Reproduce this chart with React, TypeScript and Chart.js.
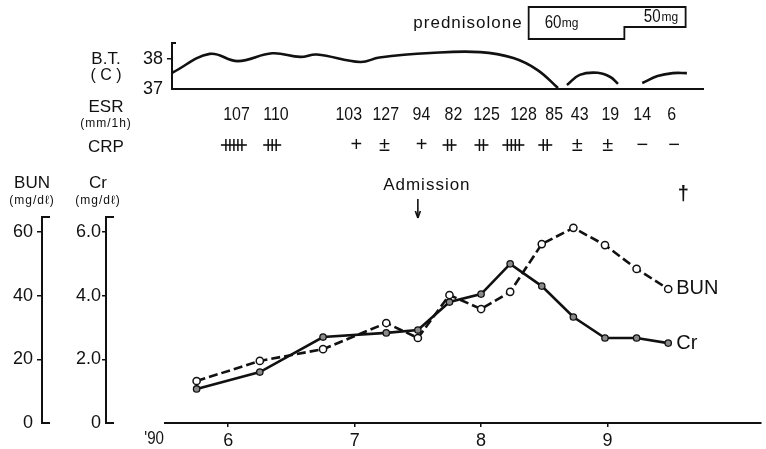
import React, { useEffect, useRef } from 'react';
import { Chart, registerables } from 'chart.js';

Chart.register(...registerables);

// ---------------- data ----------------
const sampleMonths = [5.75, 6.25, 6.75, 7.25, 7.5, 7.75, 8.0, 8.23, 8.48, 8.73, 8.98, 9.23, 9.48];
const bunValues = [13.2, 19.5, 23.2, 31.4, 26.7, 40.2, 35.8, 41.2, 56.2, 61.3, 55.9, 48.4, 42.1];
const crValues = [1.07, 1.6, 2.7, 2.83, 2.92, 3.8, 4.05, 5.0, 4.3, 3.33, 2.67, 2.67, 2.51];

const monthTicks = [6, 7, 8, 9];
const yearLabel = "'90";
const bunTicks = [0, 20, 40, 60];
const crTicks = [0, 2, 4, 6];
const btTicks = [37, 38];

const btMonths = [5.56, 5.85, 6.07, 6.34, 6.56, 6.69, 7.03, 7.18, 7.58, 7.97, 8.23, 8.42, 8.58, 8.62, 8.65, 8.75, 8.89, 8.99, 9.05, 9.15, 9.24, 9.36, 9.48, 9.59];
const btTemps: (number | null)[] = [37.55, 38.17, 37.93, 38.19, 38.07, 38.15, 37.9, 38.05, 38.2, 38.23, 38.03, 37.63, 37.03, null, 37.13, 37.47, 37.54, 37.4, 37.17, null, 37.2, 37.43, 37.53, 37.53];

const esrMonths = [6.06, 6.37, 6.94, 7.23, 7.51, 7.76, 8.02, 8.31, 8.55, 8.75, 8.99, 9.24, 9.47];
const esrValues = [107, 110, 103, 127, 94, 82, 125, 128, 85, 43, 19, 14, 6];
const crpMonths = [6.04, 6.34, 7.0, 7.22, 7.51, 7.73, 7.98, 8.23, 8.48, 8.73, 8.97, 9.24, 9.49];
const crpGrades = ['5+', '3+', '+', '±', '+', '2+', '2+', '4+', '2+', '±', '±', '−', '−'];

const admissionMonth = 7.5;
const admissionLabel = 'Admission';
const deathMonth = 9.6;
const prednisoloneStart = 8.35;
const prednisoloneStep = 9.1;
const prednisoloneEnd = 9.58;
const prednisoloneDoses = ['60', '50'];

// ---------------- layout / style ----------------
const W = 766;
const H = 449;
const INK = '#111';
const CLEAR = 'rgba(0,0,0,0)';
const NARROW = "'Liberation Sans Narrow', 'Arial Narrow', 'Liberation Sans', sans-serif";
const SANS = "'Liberation Sans', Arial, sans-serif";

const X_MIN = 5.5;
const X_MAX = 10.21;
const MAIN_LEFT = 165;
const MAIN_TOP = 217;
const MAIN_BOTTOM = 423;
const CR_TOP = 6.0 * (MAIN_BOTTOM - MAIN_TOP) / (MAIN_BOTTOM - 232);
const BUN_TOP = CR_TOP * 10;
const BT_LEFT = 172;
const BT_RIGHT = 703;
const BT_TOPPX = 43;
const BT_BASE = 89;
const BT_TOP = 37 + (BT_BASE - BT_TOPPX) / 30;
const PX_PER_MONTH = (W - MAIN_LEFT) / (X_MAX - X_MIN);
const TOP_MIN = X_MIN + (BT_LEFT - MAIN_LEFT) / PX_PER_MONTH;
const TOP_MAX = X_MIN + (BT_RIGHT - MAIN_LEFT) / PX_PER_MONTH;
const LABEL_X = 106;

function txt(ctx: CanvasRenderingContext2D, s: string, x: number, y: number, font: string,
  align: CanvasTextAlign = 'center', spacing = 0, squeeze = 1) {
  ctx.save();
  ctx.font = font;
  ctx.textAlign = align;
  ctx.textBaseline = 'middle';
  ctx.fillStyle = INK;
  (ctx as any).letterSpacing = spacing + 'px';
  ctx.translate(x, y);
  ctx.scale(squeeze, 1);
  ctx.fillText(s, 0, 0);
  ctx.restore();
}

function seg(ctx: CanvasRenderingContext2D, x1: number, y1: number, x2: number, y2: number, w = 1.6) {
  ctx.save();
  ctx.strokeStyle = INK;
  ctx.lineWidth = w;
  ctx.beginPath();
  ctx.moveTo(x1, y1);
  ctx.lineTo(x2, y2);
  ctx.stroke();
  ctx.restore();
}

function drawCrp(ctx: CanvasRenderingContext2D, grade: string, x: number, y: number) {
  const m = grade.match(/^(\d)\+$/);
  if (m) {
    const n = parseInt(m[1], 10);
    const span = (n - 1) * 4;
    seg(ctx, x - span / 2 - 5, y, x + span / 2 + 5, y, 1.6);
    for (let i = 0; i < n; i++) {
      const vx = x - span / 2 + i * 4;
      seg(ctx, vx, y - 6, vx, y + 6, 1.5);
    }
  } else {
    txt(ctx, grade, x, y, `20px ${SANS}`);
  }
}

const topDecor = {
  id: 'topDecor',
  afterDraw(chart: any) {
    const ctx: CanvasRenderingContext2D = chart.ctx;
    const xs = chart.scales.x;
    const ys = chart.scales.y;
    txt(ctx, 'B.T.', LABEL_X, ys.getPixelForValue(38), `17px ${SANS}`);
    txt(ctx, '( C )', LABEL_X, 76, `16px ${SANS}`);
    txt(ctx, 'ESR', LABEL_X, 107, `17px ${SANS}`);
    txt(ctx, '(mm/1h)', LABEL_X, 124, `12px ${SANS}`, 'center', 1);
    txt(ctx, 'CRP', LABEL_X, 147, `17px ${SANS}`);
    seg(ctx, ys.right - 1, ys.top, ys.right + 4, ys.top, 2);
    esrValues.forEach((v, i) => txt(ctx, String(v), xs.getPixelForValue(esrMonths[i]), 115, `19px ${SANS}`, 'center', 0, 0.84));
    crpGrades.forEach((g, i) => drawCrp(ctx, g, xs.getPixelForValue(crpMonths[i]), 145));
    const x0 = xs.getPixelForValue(prednisoloneStart);
    const x1 = xs.getPixelForValue(prednisoloneStep);
    const x2 = xs.getPixelForValue(prednisoloneEnd);
    ctx.save();
    ctx.strokeStyle = INK;
    ctx.lineWidth = 1.8;
    ctx.beginPath();
    ctx.moveTo(x0, 7);
    ctx.lineTo(x2, 7);
    ctx.lineTo(x2, 27);
    ctx.lineTo(x1, 27);
    ctx.lineTo(x1, 39);
    ctx.lineTo(x0, 39);
    ctx.closePath();
    ctx.stroke();
    ctx.restore();
    txt(ctx, 'prednisolone', x0 - 6, 23, `17px ${SANS}`, 'right', 1);
    txt(ctx, prednisoloneDoses[0], x0 + 16, 23, `18px ${SANS}`, 'left', 0, 0.84);
    txt(ctx, 'mg', x0 + 33, 24, `12px ${SANS}`, 'left');
    txt(ctx, prednisoloneDoses[1], x2 - 25, 17, `18px ${SANS}`, 'right', 0, 0.84);
    txt(ctx, 'mg', x2 - 24, 18, `12px ${SANS}`, 'left');
  },
};

const mainDecor = {
  id: 'mainDecor',
  afterDraw(chart: any) {
    const ctx: CanvasRenderingContext2D = chart.ctx;
    const xs = chart.scales.x;
    const yb = chart.scales.yBUN;
    const yc = chart.scales.yCr;
    [yb, yc].forEach((s: any) => {
      seg(ctx, s.right - 1, s.top, s.right + 8, s.top, 2);
      seg(ctx, s.right - 1, s.bottom, s.right + 8, s.bottom, 2);
    });
    txt(ctx, 'BUN', yb.right - 10, 183, `17px ${SANS}`);
    txt(ctx, '(mg/dℓ)', yb.right - 10, 201, `12px ${SANS}`, 'center', 1);
    txt(ctx, 'Cr', yc.right - 8, 183, `17px ${SANS}`);
    txt(ctx, '(mg/dℓ)', yc.right - 8, 201, `12px ${SANS}`, 'center', 1);
    txt(ctx, yearLabel, xs.left - 1, 439, `18px ${SANS}`, 'right', 0, 0.84);
    const ax = xs.getPixelForValue(admissionMonth);
    txt(ctx, admissionLabel, ax + 9, 185, `17px ${SANS}`, 'center', 1);
    seg(ctx, ax, 199, ax, 217, 1.6);
    seg(ctx, ax - 2.5, 211, ax, 218, 1.6);
    seg(ctx, ax + 2.5, 211, ax, 218, 1.6);
    txt(ctx, '†', xs.getPixelForValue(deathMonth), 194, `bold 20px ${SANS}`);
    const bunMeta = chart.getDatasetMeta(0).data;
    const crMeta = chart.getDatasetMeta(1).data;
    const lb = bunMeta[bunMeta.length - 1];
    const lc = crMeta[crMeta.length - 1];
    txt(ctx, 'BUN', lb.x + 8, lb.y, `20px ${SANS}`, 'left');
    txt(ctx, 'Cr', lc.x + 8, lc.y, `20px ${SANS}`, 'left');
  },
};

const tickColor = (zero: number) => (c: any) => (c.tick && c.tick.value === zero ? CLEAR : INK);

export default function App() {
  const topRef = useRef<HTMLCanvasElement>(null);
  const mainRef = useRef<HTMLCanvasElement>(null);

  useEffect(() => {
    document.body.style.margin = '0';
    const mainChart = new Chart(mainRef.current!, {
      type: 'line',
      data: {
        datasets: [
          {
            label: 'BUN',
            data: sampleMonths.map((m, i) => ({ x: m, y: bunValues[i] })),
            yAxisID: 'yBUN',
            borderColor: INK,
            borderWidth: 2.6,
            borderDash: [9, 4],
            pointRadius: 3.6,
            pointBackgroundColor: '#fff',
            pointBorderColor: INK,
            pointBorderWidth: 1.5,
            tension: 0,
          },
          {
            label: 'Cr',
            data: sampleMonths.map((m, i) => ({ x: m, y: crValues[i] })),
            yAxisID: 'yCr',
            borderColor: INK,
            borderWidth: 2.6,
            pointRadius: 3.2,
            pointBackgroundColor: '#8a8a8a',
            pointBorderColor: INK,
            pointBorderWidth: 1.3,
            tension: 0,
          },
        ],
      },
      options: {
        responsive: false,
        animation: false,
        devicePixelRatio: 1,
        events: [],
        layout: { padding: { top: MAIN_TOP, left: 0, right: 0, bottom: 0 } },
        plugins: { legend: { display: false }, tooltip: { enabled: false } },
        scales: {
          x: {
            type: 'linear',
            min: X_MIN,
            max: X_MAX,
            afterBuildTicks: (s: any) => { s.ticks = monthTicks.map((v) => ({ value: v })); },
            afterFit: (s: any) => { s.height = H - MAIN_BOTTOM; },
            ticks: { color: INK, font: { family: NARROW, size: 18 }, padding: 3, maxRotation: 0, autoSkip: false, callback: (v: any) => String(v) },
            grid: { drawOnChartArea: false, tickLength: 4, color: INK, lineWidth: 1.5 },
            border: { color: INK, width: 2 },
          },
          yBUN: {
            type: 'linear',
            position: 'left',
            weight: 3,
            min: 0,
            max: BUN_TOP,
            afterBuildTicks: (s: any) => { s.ticks = bunTicks.map((v) => ({ value: v })); },
            afterFit: (s: any) => { s.width = 42; },
            ticks: { color: INK, font: { family: NARROW, size: 18 }, padding: 4, callback: (v: any) => String(v) },
            grid: { drawOnChartArea: false, tickLength: 5, color: tickColor(0), lineWidth: 1.5 },
            border: { color: INK, width: 2 },
          },
          yCr: {
            type: 'linear',
            position: 'left',
            weight: 2,
            min: 0,
            max: CR_TOP,
            afterBuildTicks: (s: any) => { s.ticks = crTicks.map((v) => ({ value: v })); },
            afterFit: (s: any) => { s.width = 64; },
            ticks: { color: INK, font: { family: NARROW, size: 18 }, padding: 1, callback: (v: any) => (v === 0 ? '0' : Number(v).toFixed(1)) },
            grid: { drawOnChartArea: false, tickLength: 4, color: tickColor(0), lineWidth: 1.5 },
            border: { color: INK, width: 2 },
          },
          spacer: {
            type: 'linear',
            position: 'left',
            weight: 1,
            display: true,
            afterFit: (s: any) => { s.width = MAIN_LEFT - 42 - 64; },
            ticks: { display: false },
            grid: { display: false },
            border: { display: false },
          },
        },
      } as any,
      plugins: [mainDecor],
    });

    const topChart = new Chart(topRef.current!, {
      type: 'line',
      data: {
        datasets: [
          {
            label: 'B.T.',
            data: btMonths.map((m, i) => ({ x: m, y: btTemps[i] })),
            borderColor: INK,
            borderWidth: 2.6,
            pointRadius: 0,
            tension: 0.4,
            spanGaps: false,
          },
        ],
      },
      options: {
        responsive: false,
        animation: false,
        devicePixelRatio: 1,
        events: [],
        layout: { padding: { top: BT_TOPPX, left: 0, right: W - BT_RIGHT, bottom: 0 } },
        plugins: { legend: { display: false }, tooltip: { enabled: false } },
        scales: {
          x: {
            type: 'linear',
            min: TOP_MIN,
            max: TOP_MAX,
            afterFit: (s: any) => { s.height = H - BT_BASE; },
            ticks: { display: false },
            grid: { display: false },
            border: { color: INK, width: 2 },
          },
          y: {
            type: 'linear',
            min: 37,
            max: BT_TOP,
            afterBuildTicks: (s: any) => { s.ticks = btTicks.map((v) => ({ value: v })); },
            afterFit: (s: any) => { s.width = BT_LEFT; },
            ticks: { color: INK, font: { family: NARROW, size: 18 }, padding: 4, callback: (v: any) => String(v) },
            grid: { drawOnChartArea: false, tickLength: 5, color: tickColor(37), lineWidth: 1.5 },
            border: { color: INK, width: 2 },
          },
        },
      } as any,
      plugins: [topDecor],
    });

    return () => {
      mainChart.destroy();
      topChart.destroy();
    };
  }, []);

  return (
    <div style={{ position: 'relative', width: W, height: H, background: '#fff' }}>
      <canvas ref={topRef} width={W} height={H} style={{ position: 'absolute', left: 0, top: 0 }} />
      <canvas ref={mainRef} width={W} height={H} style={{ position: 'absolute', left: 0, top: 0 }} />
    </div>
  );
}
